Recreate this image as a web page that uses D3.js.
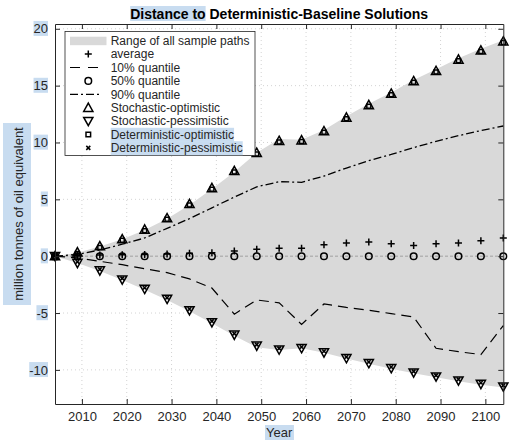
<!DOCTYPE html>
<html><head><meta charset="utf-8">
<script src="https://cdn.jsdelivr.net/npm/d3@7"></script>
<style>
body{margin:0;background:#fff;}
svg{display:block;font-family:"Liberation Sans",Arial,Helvetica,sans-serif;}
</style></head>
<body><svg id="c" width="510" height="441"></svg>
<script>
const years = [2004,2009,2014,2019,2024,2029,2034,2039,2044,2049,2054,2059,2064,2069,2074,2079,2084,2089,2094,2099,2104];
const rangeMax = [0,0.3,0.85,1.5,2.3,3.3,4.5,5.9,7.4,9.1,10.3,10.25,11.1,12.3,13.4,14.4,15.5,16.45,17.4,18.25,19.0];
const rangeMin = [0,-0.6,-1.3,-2.1,-2.95,-3.85,-4.85,-5.9,-7.0,-8.0,-8.25,-8.1,-8.5,-9.0,-9.45,-9.9,-10.3,-10.65,-11.0,-11.3,-11.55];
const average = [0,0.05,0.1,0.12,0.15,0.2,0.25,0.3,0.45,0.6,0.7,0.7,1.0,1.15,1.25,1.1,0.95,1.1,1.15,1.35,1.6];
const q10 = [0,-0.15,-0.45,-0.75,-1.1,-1.45,-2.0,-2.8,-5.1,-3.85,-4.1,-6.0,-4.2,-4.5,-4.75,-5.05,-5.35,-8.1,-8.4,-8.65,-6.1];
const q50 = [0,0,0,0,0,0,0,0,0,0,0,0,0,0,0,0,0,0,0,0,0];
const q90 = [0,0.15,0.55,1.05,1.6,2.45,3.3,4.25,5.2,6.1,6.55,6.5,7.05,7.75,8.4,8.95,9.55,10.1,10.6,11.05,11.45];
const stochOpt = [0,0.35,0.88,1.5,2.35,3.35,4.6,6.0,7.5,9.1,10.15,10.2,11.0,12.2,13.3,14.3,15.4,16.3,17.3,18.1,18.9];
const stochPess = [0,-0.6,-1.26,-2.06,-2.88,-3.76,-4.76,-5.82,-6.91,-7.88,-8.22,-8.09,-8.47,-8.97,-9.41,-9.85,-10.24,-10.59,-10.94,-11.24,-11.47];
const detOpt = [0,0.35,0.88,1.5,2.35,3.35,4.6,6.0,7.5,9.1,10.15,10.2,11.0,12.2,13.3,14.3,15.4,16.3,17.3,18.1,18.9];
const detPess = [0,-0.6,-1.26,-2.06,-2.88,-3.76,-4.76,-5.82,-6.91,-7.88,-8.22,-8.09,-8.47,-8.97,-9.41,-9.85,-10.24,-10.59,-10.94,-11.24,-11.47];
const xTicks = [2010,2020,2030,2040,2050,2060,2070,2080,2090,2100];
const yTicks = [-10,-5,0,5,10,15,20];
const legendLabels = ["Range of all sample paths","average","10% quantile","50% quantile","90% quantile","Stochastic-optimistic","Stochastic-pessimistic","Deterministic-optimistic","Deterministic-pessimistic"];
const titleText = "Distance to Deterministic-Baseline Solutions";
const xLabel = "Year";
const yLabel = "million tonnes of oil equivalent";

const HL = "#c8dcf0", INK = "#262626";
const svg = d3.select("#c");
const L = 55, R = 503.3, T = 24, B = 404;
const x = d3.scaleLinear().domain([2004,2104]).range([L,R]);
const y = d3.scaleLinear().domain([-13,20.42]).range([B,T]);
const hlLayer = svg.append("g");

function highlight(sel, pad){
  sel.each(function(){
    const b = this.getBBox();
    hlLayer.append("rect").attr("x",b.x-pad).attr("y",b.y).attr("width",b.width+2*pad).attr("height",b.height).attr("fill",HL);
  });
}

// grid
const grid = svg.append("g");
grid.selectAll(".gx").data(xTicks).join("line").attr("x1",d=>x(d)).attr("x2",d=>x(d)).attr("y1",T).attr("y2",B)
  .attr("stroke","#c8c8c8").attr("stroke-width",0.8).attr("stroke-dasharray","1,3");
grid.selectAll(".gy").data(yTicks).join("line").attr("y1",d=>y(d)).attr("y2",d=>y(d)).attr("x1",L).attr("x2",R)
  .attr("stroke","#c8c8c8").attr("stroke-width",0.8).attr("stroke-dasharray","1,3");

// range area
const area = d3.area().x((d,i)=>x(years[i])).y0((d,i)=>y(rangeMin[i])).y1((d,i)=>y(rangeMax[i]));
svg.append("path").datum(years).attr("d",area).attr("fill","#d9d9d9");

// zero reference line
svg.append("line").attr("x1",L).attr("x2",R).attr("y1",y(0)).attr("y2",y(0))
  .attr("stroke","#9a9a9a").attr("stroke-width",0.9).attr("stroke-dasharray","3,2");

// quantile lines
const line = arr => d3.line().x((d,i)=>x(years[i])).y((d,i)=>y(arr[i]))(years);
svg.append("path").attr("d",line(q10)).attr("fill","none").attr("stroke","#000").attr("stroke-width",1.2).attr("stroke-dasharray","10,6");
svg.append("path").attr("d",line(q90)).attr("fill","none").attr("stroke","#000").attr("stroke-width",1.3).attr("stroke-dasharray","8,3,2,3");

// markers
const mk = svg.append("g").attr("fill","none").attr("stroke","#000").attr("stroke-width",1.5);
function triUp(cx,cy,s){return `M${cx},${cy-s}L${cx+s},${cy+s*0.8}L${cx-s},${cy+s*0.8}Z`;}
function triDown(cx,cy,s){return `M${cx},${cy+s}L${cx+s},${cy-s*0.8}L${cx-s},${cy-s*0.8}Z`;}
function plus(cx,cy,s){return `M${cx-s},${cy}H${cx+s}M${cx},${cy-s}V${cy+s}`;}
function cross(cx,cy,s){return `M${cx-s},${cy-s}L${cx+s},${cy+s}M${cx+s},${cy-s}L${cx-s},${cy+s}`;}
function square(cx,cy,s){return `M${cx-s},${cy-s}H${cx+s}V${cy+s}H${cx-s}Z`;}

years.forEach((yr,i)=>{
  const cx = x(yr);
  mk.append("circle").attr("cx",cx).attr("cy",y(q50[i])).attr("r",3.3);
  mk.append("path").attr("d",plus(cx,y(average[i]),3.5));
  mk.append("path").attr("d",triUp(cx,y(stochOpt[i]),4.6));
  mk.append("path").attr("d",square(cx,y(detOpt[i])+1.2,2));
  mk.append("path").attr("d",triDown(cx,y(stochPess[i]),4.6));
  mk.append("path").attr("d",cross(cx,y(detPess[i])-1.2,1.8));
});

// axes (box with inward ticks)
const fmt = d => String(d);
const gx = svg.append("g").attr("transform",`translate(0,${B})`)
  .call(d3.axisBottom(x).tickValues(xTicks).tickSizeInner(-5).tickSizeOuter(0).tickPadding(8).tickFormat(fmt));
const gt = svg.append("g").attr("transform",`translate(0,${T})`)
  .call(d3.axisTop(x).tickValues(xTicks).tickSizeInner(-5).tickSizeOuter(0).tickFormat(""));
const gy = svg.append("g").attr("transform",`translate(${L},0)`)
  .call(d3.axisLeft(y).tickValues(yTicks).tickSizeInner(-5).tickSizeOuter(0).tickPadding(7).tickFormat(fmt));
const gr = svg.append("g").attr("transform",`translate(${R},0)`)
  .call(d3.axisRight(y).tickValues(yTicks).tickSizeInner(-5).tickSizeOuter(0).tickFormat(""));
[gx,gt,gy,gr].forEach(g=>{
  g.selectAll("path,line").attr("stroke",INK).attr("stroke-width",1);
  g.selectAll("text").attr("fill",INK).attr("font-size","13px").attr("font-family",null);
});
// highlight behind y tick labels (in page coords)
gy.selectAll(".tick").each(function(d){
  const t = d3.select(this).select("text").node();
  const b = t.getBBox();
  hlLayer.append("rect").attr("x",L+b.x).attr("y",y(d)+b.y).attr("width",b.width).attr("height",b.height).attr("fill",HL);
});

// title
const title = svg.append("text").attr("x",(L+R)/2).attr("y",19).attr("text-anchor","middle")
  .attr("font-size","14px").attr("font-weight","bold").attr("fill","#000").text(titleText);
{
  const node = title.node();
  const sx = node.getStartPositionOfChar(0).x;
  const w = node.getSubStringLength(0, 11);
  hlLayer.append("rect").attr("x",sx).attr("y",6).attr("width",w).attr("height",15).attr("fill",HL);
}

// axis labels
const xl = svg.append("text").attr("x",(L+R)/2).attr("y",437).attr("text-anchor","middle")
  .attr("font-size","13px").attr("fill",INK).text(xLabel);
highlight(xl, 1);
hlLayer.append("rect").attr("x",3).attr("y",123).attr("width",28).attr("height",182).attr("fill",HL);
svg.append("text").attr("transform",`translate(23,${(T+B)/2}) rotate(-90)`).attr("text-anchor","middle")
  .attr("font-size","13px").attr("fill",INK).text(yLabel);

// legend
const lg = svg.append("g").attr("transform","translate(65,31.5)");
const LW = 190, LH = 124, rowH = 13.4, y0 = 9.2, symX = 23.3, txtX = 45.7;
lg.append("rect").attr("width",LW).attr("height",LH).attr("fill","#fff").attr("stroke",INK).attr("stroke-width",0.8);
lg.append("rect").attr("x",5).attr("y",y0-4).attr("width",36.5).attr("height",8.5).attr("fill","#d9d9d9");
const lhl = lg.append("g");
legendLabels.forEach((lab,i)=>{
  const cy = y0 + i*rowH;
  const t = lg.append("text").attr("x",txtX).attr("y",cy+4.3).attr("font-size","12px").attr("fill",INK).text(lab);
  if (i>=7){ const b=t.node().getBBox(); lhl.append("rect").attr("x",b.x).attr("y",b.y).attr("width",b.width).attr("height",b.height).attr("fill",HL); }
});
lg.selectAll("text").raise();
const ls = lg.append("g").attr("fill","none").attr("stroke","#000").attr("stroke-width",1.5);
ls.append("path").attr("d",plus(symX,y0+rowH,3.5));
ls.append("line").attr("x1",5).attr("x2",37).attr("y1",y0+2*rowH).attr("y2",y0+2*rowH).attr("stroke-width",1.2).attr("stroke-dasharray","10,8");
ls.append("circle").attr("cx",symX).attr("cy",y0+3*rowH).attr("r",3.3);
ls.append("line").attr("x1",5).attr("x2",37).attr("y1",y0+4*rowH).attr("y2",y0+4*rowH).attr("stroke-width",1.3).attr("stroke-dasharray","8,3,2,3");
ls.append("path").attr("d",triUp(symX,y0+5*rowH,4.6));
ls.append("path").attr("d",triDown(symX,y0+6*rowH,4.6));
ls.append("path").attr("d",square(symX,y0+7*rowH,2.3));
ls.append("path").attr("d",cross(symX,y0+8*rowH,2));
</script></body></html>
